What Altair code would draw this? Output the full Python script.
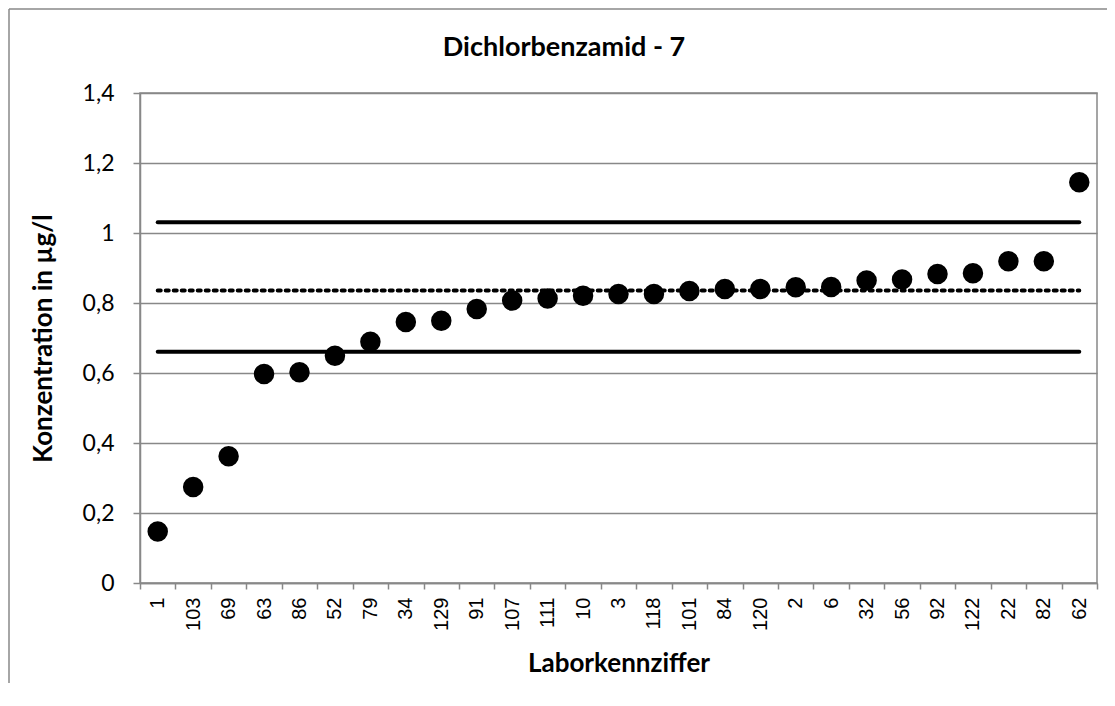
import altair as alt
import pandas as pd

title_text = "Dichlorbenzamid - 7"
labs = ["1", "103", "69", "63", "86", "52", "79", "34", "129", "91", "107", "111", "10", "3",
        "118", "101", "84", "120", "2", "6", "32", "56", "92", "122", "22", "82", "62"]
values = [0.147, 0.274, 0.362, 0.597, 0.602, 0.649, 0.689, 0.746, 0.749, 0.783, 0.807, 0.813,
          0.821, 0.826, 0.826, 0.834, 0.840, 0.840, 0.845, 0.846, 0.864, 0.867, 0.883, 0.885,
          0.919, 0.919, 1.145]
upper_limit = 1.031
mean_value = 0.836
lower_limit = 0.661
y_ticks = [0, 0.2, 0.4, 0.6, 0.8, 1.0, 1.2, 1.4]

df = pd.DataFrame({
    "lab": labs,
    "value": values,
    "upper": [upper_limit] * len(labs),
    "mean": [mean_value] * len(labs),
    "lower": [lower_limit] * len(labs),
})

GRAY = "#888888"

x_enc = alt.X(
    "lab:N",
    sort=labs,
    scale=alt.Scale(paddingInner=0, paddingOuter=0),
    axis=alt.Axis(
        title="Laborkennziffer",
        titleFont="Lato", titleFontSize=26, titleFontWeight="bold", titleColor="black",
        titlePadding=20,
        labelFont="Liberation Sans", labelFontSize=20, labelColor="black",
        labelAngle=-90, labelAlign="right", labelBaseline="middle", labelPadding=8,
        domainColor=GRAY, domainWidth=1.5, tickColor=GRAY, tickWidth=1.5, tickSize=6,
        tickBand="extent", grid=False,
    ),
)

y_scale = alt.Scale(domain=[0, 1.4], nice=False, zero=True)
y_axis = alt.Axis(
    title="Konzentration in µg/l",
    titleFont="Lato", titleFontSize=26, titleFontWeight="bold", titleColor="black",
    titlePadding=26,
    values=y_ticks,
    labelExpr="replace(toString(datum.value), '.', ',')",
    labelFont="Lato", labelFontSize=23, labelColor="black", labelPadding=19,
    domainColor=GRAY, domainWidth=1.5, tickColor=GRAY, tickWidth=1.5, tickSize=7,
    grid=True, gridColor=GRAY, gridWidth=1.5,
)

base = alt.Chart(df)

pts = base.mark_circle(size=420, color="black", opacity=1).encode(
    x=x_enc,
    y=alt.Y("value:Q", scale=y_scale, axis=y_axis),
)

up = base.mark_line(color="black", strokeWidth=4, strokeCap="round").encode(
    x=alt.X("lab:N", sort=labs), y=alt.Y("upper:Q", scale=y_scale))
lo = base.mark_line(color="black", strokeWidth=4, strokeCap="round").encode(
    x=alt.X("lab:N", sort=labs), y=alt.Y("lower:Q", scale=y_scale))
mn = base.mark_line(color="black", strokeWidth=4, strokeCap="round", strokeDash=[3, 5]).encode(
    x=alt.X("lab:N", sort=labs), y=alt.Y("mean:Q", scale=y_scale))

one = pd.DataFrame({"t": [title_text]})

# outer chart frame (left and top edges, as in the cropped reference)
frame_left = alt.Chart(one).mark_rule(color=GRAY, strokeWidth=1.5).encode(
    x=alt.value(-131), y=alt.value(-84), y2=alt.value(610))
frame_top = alt.Chart(one).mark_rule(color=GRAY, strokeWidth=1.5).encode(
    x=alt.value(-131), x2=alt.value(975), y=alt.value(-84))

title = alt.Chart(one).mark_text(
    font="Lato", fontSize=27, fontWeight="bold", color="black",
    align="center", baseline="middle",
).encode(text="t:N", x=alt.value(424), y=alt.value(-45))

chart = alt.layer(frame_left, frame_top, up, lo, mn, pts, title).properties(
    width=957,
    height=490,
    autosize=alt.AutoSizeParams(type="none"),
    padding={"left": 132, "top": 85, "right": 10, "bottom": 100},
).configure_view(
    stroke=GRAY, strokeWidth=1.5
)

chart.save("out.html", embed_options={"renderer": "svg", "actions": False})
